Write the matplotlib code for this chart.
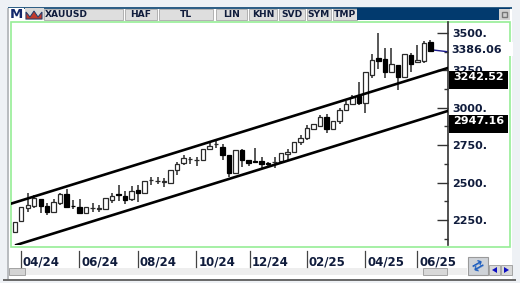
import matplotlib
matplotlib.use("Agg")
import matplotlib.pyplot as plt
from matplotlib.patches import Rectangle, Polygon
from matplotlib.ticker import FixedLocator

# weekly XAUUSD candles
opens = [2170, 2243, 2327, 2344, 2390, 2344, 2303, 2364, 2424, 2346, 2337, 2297, 2328, 2324, 2323, 2384,
         2422, 2410, 2390, 2451, 2430, 2515, 2508, 2504, 2497, 2584, 2631, 2656, 2649, 2651, 2725, 2756,
         2738, 2685, 2564, 2718, 2651, 2647, 2644, 2630, 2635, 2644, 2691, 2705, 2772, 2798, 2858, 2878,
         2938, 2858, 2912, 2985, 3025, 3079, 3032, 3219, 3333, 3326, 3239, 3286, 3206, 3353, 3306, 3313, 3440]
highs = [2237, 2337, 2430, 2417, 2390, 2364, 2390, 2430, 2457, 2384, 2390, 2337, 2364, 2350, 2397, 2430,
         2484, 2444, 2477, 2484, 2510, 2537, 2537, 2530, 2584, 2637, 2684, 2670, 2670, 2725, 2765, 2785,
         2758, 2685, 2718, 2725, 2651, 2731, 2671, 2637, 2671, 2698, 2725, 2772, 2818, 2885, 2892, 2951,
         2958, 2912, 2998, 3045, 3085, 3173, 3239, 3360, 3500, 3400, 3400, 3286, 3360, 3366, 3420, 3447, 3453]
lows = [2170, 2243, 2303, 2330, 2297, 2283, 2297, 2350, 2330, 2323, 2290, 2297, 2303, 2303, 2323, 2364,
        2377, 2357, 2377, 2370, 2430, 2484, 2490, 2470, 2497, 2550, 2617, 2624, 2610, 2651, 2718, 2731,
        2651, 2537, 2564, 2604, 2611, 2637, 2591, 2604, 2597, 2644, 2644, 2705, 2752, 2785, 2858, 2872,
        2832, 2858, 2892, 2985, 3025, 3018, 2965, 3200, 3260, 3200, 3239, 3119, 3206, 3239, 3306, 3300, 3373]
closes = [2237, 2337, 2350, 2397, 2344, 2303, 2370, 2424, 2337, 2342, 2297, 2337, 2332, 2328, 2397, 2410,
          2414, 2384, 2444, 2430, 2510, 2519, 2512, 2508, 2584, 2624, 2664, 2660, 2653, 2725, 2745, 2760,
          2685, 2564, 2718, 2651, 2631, 2640, 2624, 2626, 2639, 2698, 2705, 2772, 2798, 2865, 2892, 2938,
          2858, 2912, 2985, 3025, 3072, 3032, 3239, 3320, 3313, 3239, 3293, 3206, 3360, 3293, 3320, 3433, 3380]

date_pos = [1, 10, 19, 28, 36.2, 45, 54, 62]
date_labels = ["04/24", "06/24", "08/24", "10/24", "12/24", "02/25", "04/25", "06/25"]
y_major = [2250, 2500, 2750, 3000, 3250, 3500]
y_minor = [2125, 2375, 2625, 2875, 3125, 3375]
upper_x = [-0.5, 66.7]
upper_y = [2360, 3266]
lower_x = [0.25, 66.7]
lower_y = [2083, 2979]
last_price = 3386.06
upper_val = 3242.52
lower_val = 2947.16

W, H = 520, 283
fig = plt.figure(figsize=(W / 100, H / 100), dpi=100, facecolor="#eef1f5")
plt.rcParams["font.family"] = ["DejaVu Sans"]
NAVY = "#101c3c"


def px_axes(x0, y0, x1, y1, **kw):
    return fig.add_axes([x0 / W, 1 - y1 / H, (x1 - x0) / W, (y1 - y0) / H], **kw)


# window chrome, pixel coordinates
bg = px_axes(0, 0, W, H, zorder=0)
bg.set_xlim(0, W)
bg.set_ylim(H, 0)
bg.axis("off")


def box(x0, y0, x1, y1, fc, ec="none", lw=0.0, a=bg, z=1):
    a.add_patch(Rectangle((x0, y0), x1 - x0, y1 - y0, facecolor=fc, edgecolor=ec, linewidth=lw, zorder=z))


box(8, 7, 512, 279, "white")
box(8, 7, 512, 8.5, "#2f5f86")
box(7, 8, 9, 279, "#b9bcc0")
box(3, 279, 516, 281, "#6b6b6b")
box(10.5, 21.5, 510, 246.5, "white", "#96ee96", 1.2)

box(9, 8, 24, 20, "white")
box(25, 8, 44, 20, "#d8d8d8")
bg.add_patch(Polygon([(26, 12), (30, 17), (34, 11), (38, 17), (42, 12), (42, 19), (26, 19)],
                     facecolor="#c0392b", edgecolor="#1f3a6b", linewidth=0.7, zorder=2))
bg.text(16.5, 14.5, "M", fontsize=9.5, fontweight="bold", color="#14286b", ha="center", va="center", zorder=3)

tabs = [(44, 123, "XAUUSD"), (125, 157, "HAF"), (159, 213, "TL"), (216, 247, "LIN"), (249, 277, "KHN"),
        (279, 305, "SVD"), (307, 331, "SYM"), (333, 357, "TMP")]
for x0, x1, name in tabs:
    box(x0, 8.5, x1, 20, "#dedede", "#a8a8a8", 0.6)
    tx = 45 if name == "XAUUSD" else (x0 + x1) / 2
    bg.text(tx, 14.5, name, fontsize=6.6, fontweight="bold", color=NAVY,
            ha="left" if name == "XAUUSD" else "center", va="center", zorder=3)
box(357, 8, 510, 20, "#023a6e")
box(499, 9, 510, 20, "#d0d0d0")
box(502, 12, 507, 17, "#d0d0d0", "#777777", 1.0)

# chart
ax = px_axes(10.5, 22, 448, 245, zorder=2)
ax.patch.set_alpha(0)
ax.set_xlim(-0.64, 66.7)
ax.set_ylim(2083, 3573)
for s in ["left", "top", "bottom"]:
    ax.spines[s].set_visible(False)
ax.spines["right"].set_color("#333333")
ax.spines["right"].set_linewidth(1.2)
ax.set_xticks([])
ax.yaxis.tick_right()
ax.yaxis.set_major_locator(FixedLocator(y_major))
ax.yaxis.set_minor_locator(FixedLocator(y_minor))
ax.set_yticklabels([f"{v}." for v in y_major], fontsize=8, fontweight="bold", color=NAVY)
ax.tick_params(axis="y", which="major", direction="in", length=8, width=1, color="#333333", pad=3)
ax.tick_params(axis="y", which="minor", direction="in", length=3, width=1, color="#333333")

for i in range(len(opens)):
    ax.vlines(i, lows[i], highs[i], color="#2a2a2a", linewidth=1.1, zorder=2)
    up = closes[i] >= opens[i]
    ax.bar(i, abs(closes[i] - opens[i]), bottom=min(opens[i], closes[i]), width=0.66,
           facecolor="white" if up else "black", edgecolor="#2a2a2a" if up else "black",
           linewidth=0.9, zorder=3)

ax.plot(upper_x, upper_y, color="black", linewidth=1.9, zorder=4, clip_on=True)
ax.plot(lower_x, lower_y, color="black", linewidth=1.9, zorder=4, clip_on=True)
ax.plot([len(opens) - 1 + 0.4, 66.7], [last_price, last_price - 12], color="#1a1a8c", linewidth=1.0, zorder=2)

# right hand price tags
tags = px_axes(0, 0, W, H, zorder=3)
tags.set_xlim(0, W)
tags.set_ylim(H, 0)
tags.axis("off")
tags.patch.set_alpha(0)
box(449, 42, 513, 56, "white", a=tags)
tags.text(451, 50, f"{last_price:.2f}", fontsize=8, fontweight="bold", color=NAVY, va="center", zorder=3)
box(448.5, 71, 508, 89, "black", a=tags)
tags.text(453, 77.5, f"{upper_val:.2f}", fontsize=8, fontweight="bold", color="white", va="center", zorder=3)
box(448.5, 115, 508, 133, "black", a=tags)
tags.text(453, 121.5, f"{lower_val:.2f}", fontsize=8, fontweight="bold", color="white", va="center", zorder=3)

# date strip
for p, lab in zip(date_pos, date_labels):
    x = 14.4 + p * 6.5
    tags.plot([x, x], [251, 267], color="#444444", linewidth=0.9)
    tags.text(x + 2, 262, lab, fontsize=8.5, fontweight="bold", color=NAVY, va="center")

# scrollbar and buttons
box(9, 268, 467, 275, "#eeeeee", a=tags)
box(9, 268, 25, 275, "#d4d4d4", "#999999", 0.6, a=tags)
box(423, 268, 447, 275, "#d8d8d8", "#999999", 0.6, a=tags)
box(468, 257, 488, 275, "#cfd3d8", "#9a9a9a", 0.8, a=tags)
tags.text(478, 266, "\u21c4", fontsize=10, fontweight="bold", color="#1f5fbf", ha="center", va="center", rotation=30)
box(489, 265, 500, 275, "#d8d8d8", "#9a9a9a", 0.6, a=tags)
box(501, 265, 512, 275, "#d8d8d8", "#9a9a9a", 0.6, a=tags)
tags.add_patch(Polygon([(497, 267), (497, 273), (492, 270)], facecolor="#1010c0", zorder=3))
tags.add_patch(Polygon([(504, 267), (504, 273), (509, 270)], facecolor="#1010c0", zorder=3))

fig.savefig("out.png", dpi=100)
